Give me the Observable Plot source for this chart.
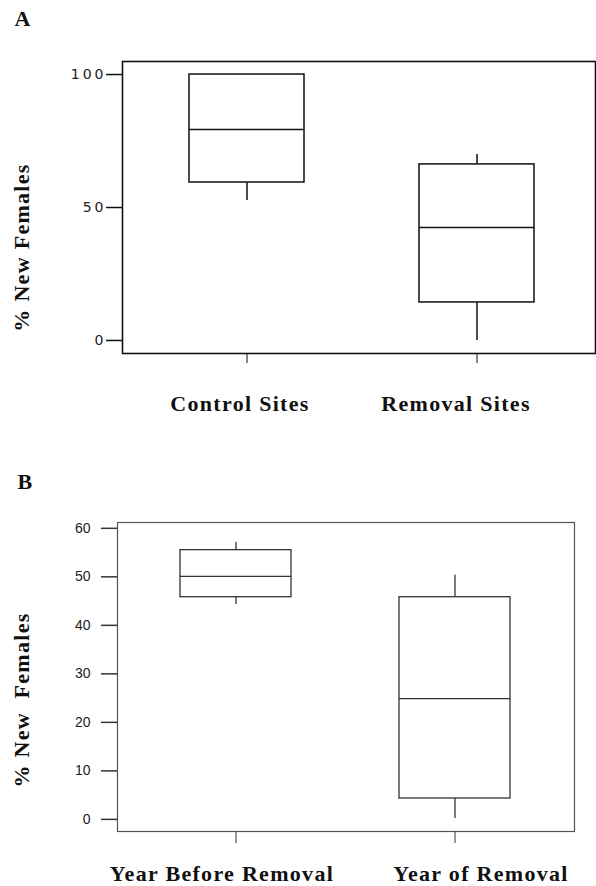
<!DOCTYPE html>
<html>
<head>
<meta charset="utf-8">
<script src="https://cdn.jsdelivr.net/npm/d3@7"></script>
<script src="https://cdn.jsdelivr.net/npm/@observablehq/plot@0.6"></script>
<style>
  html, body { margin: 0; padding: 0; background: #fff; }
  #chart { width: 596px; }
  #chart svg { display: block; }
  #chart svg g[font-family*="Liberation Serif"] text { letter-spacing: 1.3px; }
  #chart svg.panelA g[aria-label="y-axis tick label"] text { letter-spacing: 3px; }
  #chart svg g.letter text { letter-spacing: 0; }
</style>
</head>
<body>
<div id="chart"></div>
<script>
// Panel A
const groupsA = ["Control Sites", "Removal Sites"];
const lowA  = [52.6, 0.0];
const q1A   = [59.4, 14.3];
const medA  = [79.3, 42.5];
const q3A   = [100.0, 66.2];
const highA = [100.0, 69.9];
const ticksA = [0, 50, 100];

// Panel B
const groupsB = ["Year Before Removal", "Year of Removal"];
const lowB  = [44.3, 0.2];
const q1B   = [45.8, 4.3];
const medB  = [50.1, 24.9];
const q3B   = [55.5, 45.8];
const highB = [57.1, 50.3];
const ticksB = [0, 10, 20, 30, 40, 50, 60];

const yTitleA = "% New Females";
const yTitleB = "% New\u00a0 Females";

function rows(groups, low, q1, med, q3, high) {
  return groups.map((g, i) => ({g, low: low[i], q1: q1[i], med: med[i], q3: q3[i], high: high[i]}));
}

const serif = "'Liberation Serif', 'Times New Roman', serif";

function panel(o) {
  const data = rows(o.groups, o.low, o.q1, o.med, o.q3, o.high);
  const svg = Plot.plot({
    width: 596,
    height: o.height,
    marginTop: o.mt, marginBottom: o.mb, marginLeft: o.ml, marginRight: o.mr,
    x: {type: "band", domain: o.groups, range: o.xRange, paddingInner: o.pad, paddingOuter: 0},
    y: {domain: o.yDomain},
    style: {background: "#fff", overflow: "visible"},
    marks: [
      Plot.frame({stroke: o.frameColor, strokeWidth: o.frameWidth}),
      Plot.axisY({ticks: o.ticks, tickSize: 16, tickPadding: o.tickPad, fontSize: o.tickFont,
        fontFamily: o.tickFamily, fill: "#222", stroke: o.axisColor, strokeWidth: 1.5, label: null}),
      Plot.axisX({tickSize: o.xTick, tickFormat: () => "", label: null, stroke: o.axisColor}),
      Plot.ruleX(data, {x: "g", y1: "low", y2: "q1", stroke: o.boxColor, strokeWidth: o.boxWidth}),
      Plot.ruleX(data, {x: "g", y1: "q3", y2: "high", stroke: o.boxColor, strokeWidth: o.boxWidth}),
      Plot.barY(data, {x: "g", y1: "q1", y2: "q3", fill: "white", stroke: o.boxColor, strokeWidth: o.boxWidth}),
      Plot.tickY(data, {x: "g", y: "med", stroke: o.boxColor, strokeWidth: o.boxWidth}),
      ...o.groups.map((g, i) => Plot.text([g], {x: d => d, frameAnchor: "bottom", textAnchor: "middle",
        dy: o.labelDy, dx: o.labelDx[i],
        fontSize: 22, fontWeight: "bold", fontFamily: serif, fill: "#111"})),
      Plot.text([o.yTitle], {frameAnchor: "left", textAnchor: "middle", lineAnchor: "middle", rotate: -90,
        dx: o.yTitleDx, dy: o.yTitleDy, fontSize: 22, fontWeight: "bold", fontFamily: serif, fill: "#111"}),
      Plot.text([o.letter], {frameAnchor: "top-left", textAnchor: "start", lineAnchor: "bottom",
        dx: o.letterDx, dy: o.letterDy, fontSize: 22, fontWeight: "bold", fontFamily: "'Liberation Serif', serif", fill: "#111"})
    ]
  });
  svg.classList.add(o.cls);
  return svg;
}

const chart = document.getElementById("chart");
chart.append(panel({
  cls: "panelA",
  groups: groupsA, low: lowA, q1: q1A, med: medA, q3: q3A, high: highA, ticks: ticksA,
  height: 460, mt: 61, mb: 107, ml: 122, mr: 1,
  xRange: [188.5, 533.5], pad: 0.5, yDomain: [-4.9, 104.9],
  frameColor: "#111", frameWidth: 1.6, axisColor: "#111", boxColor: "#111", boxWidth: 1.5,
  tickPad: 0, tickFont: 14, tickFamily: "'DejaVu Sans', sans-serif", xTick: 10,
  labelDy: 57, labelDx: [-7, -21], yTitle: yTitleA, yTitleDx: -101, yTitleDy: 40,
  letter: "A", letterDx: -108, letterDy: -36
}));
chart.append(panel({
  cls: "panelB",
  groups: groupsB, low: lowB, q1: q1B, med: medB, q3: q3B, high: highB, ticks: ticksB,
  height: 426, mt: 62, mb: 55, ml: 117, mr: 22,
  xRange: [179.75, 510.75], pad: 0.492, yDomain: [-2.5, 61.2],
  frameColor: "#555", frameWidth: 1.2, axisColor: "#333", boxColor: "#333", boxWidth: 1.3,
  tickPad: 11, tickFont: 14, tickFamily: "'Liberation Sans', Arial, sans-serif", xTick: 12,
  labelDy: 49, labelDx: [-14, 26], yTitle: yTitleB, yTitleDx: -96, yTitleDy: 23,
  letter: "B", letterDx: -100, letterDy: -34
}));
</script>
</body>
</html>
